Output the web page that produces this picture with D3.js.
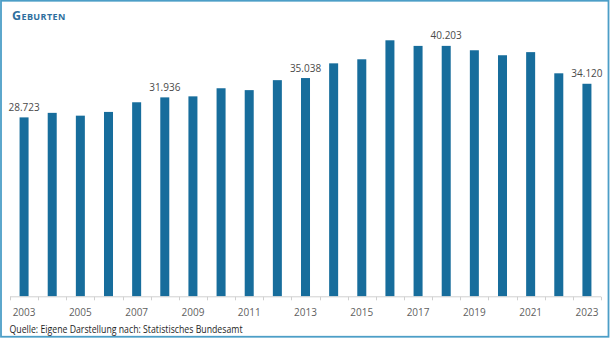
<!DOCTYPE html>
<html lang="de">
<head>
<meta charset="utf-8">
<script src="https://cdn.jsdelivr.net/npm/d3@7"></script>
<style>
  html, body { margin: 0; padding: 0; background: #fff; }
  svg { display: block; }
</style>
</head>
<body>
<script>
// Lebendgeburten je Jahr
const years = [2003, 2004, 2005, 2006, 2007, 2008, 2009, 2010, 2011, 2012, 2013,
               2014, 2015, 2016, 2017, 2018, 2019, 2020, 2021, 2022, 2023];
const births = [28723, 29450, 29000, 29600, 31150, 31936, 32100, 33400, 33100, 34700, 35038,
                37400, 38050, 41100, 40200, 40203, 39500, 38700, 39200, 35800, 34120];
const labelledYears = [2003, 2008, 2013, 2018, 2023];
const tickYears = [2003, 2005, 2007, 2009, 2011, 2013, 2015, 2017, 2019, 2021, 2023];
const title = "Geburten";
const source = "Quelle: Eigene Darstellung nach: Statistisches Bundesamt";

const W = 611, H = 338;
const plot = { left: 10, right: 601, top: 16, bottom: 296.3 };
const barColor = "#176d9c";
const frameColor = "#4c9ec7";
const font = "'Open Sans', 'Noto Sans', sans-serif";

const de = d3.formatLocale({ decimal: ",", thousands: ".", grouping: [3], currency: ["", " €"] });
const fmt = de.format(",d");

const svg = d3.select("body").append("svg")
  .attr("width", W).attr("height", H);

// Rahmen
svg.append("rect")
  .attr("x", 1).attr("y", 0.75)
  .attr("width", W - 3.5).attr("height", H - 2)
  .attr("fill", "none")
  .attr("stroke", frameColor)
  .attr("stroke-width", 1.8);

// Titel
svg.append("text")
  .attr("x", 12).attr("y", 20)
  .attr("font-family", font)
  .attr("font-size", 12.5)
  .attr("font-weight", 700)
  .style("font-variant", "small-caps")
  .attr("letter-spacing", 0.4)
  .attr("fill", "#2e6f9e")
  .text(title);

const x = d3.scaleBand()
  .domain(years)
  .range([plot.left, plot.right])
  .paddingInner(0.68)
  .paddingOuter(0.34);

const y = d3.scaleLinear()
  .domain([0, 45000])
  .range([plot.bottom, plot.top]);

const rows = years.map((yr, i) => ({ yr, v: births[i] }));

// Säulen
svg.append("g").selectAll("rect")
  .data(rows)
  .join("rect")
  .attr("x", d => x(d.yr))
  .attr("y", d => y(d.v))
  .attr("width", x.bandwidth())
  .attr("height", d => y(0) - y(d.v))
  .attr("fill", barColor);

// Wertbeschriftungen
svg.append("g").selectAll("text")
  .data(rows.filter(d => labelledYears.includes(d.yr)))
  .join("text")
  .attr("x", d => x(d.yr) + x.bandwidth() / 2)
  .attr("y", d => y(d.v) - 6.5)
  .attr("text-anchor", "middle")
  .attr("font-family", font)
  .attr("font-size", 10)
  .attr("fill", "#4a4a4a")
  .text(d => fmt(d.v));

// x-Achse: Linie, Trennstriche an den Kategoriegrenzen, Jahresbeschriftungen
const axis = svg.append("g");
axis.append("line")
  .attr("x1", plot.left).attr("x2", plot.right)
  .attr("y1", plot.bottom + 0.5).attr("y2", plot.bottom + 0.5)
  .attr("stroke", "#d0d0d0").attr("stroke-width", 1);

const edges = years.map(yr => x(yr) + x.bandwidth() / 2 - x.step() / 2).concat([plot.right]);
axis.selectAll("line.tick")
  .data(edges)
  .join("line")
  .attr("class", "tick")
  .attr("x1", d => Math.round(d) + 0.5).attr("x2", d => Math.round(d) + 0.5)
  .attr("y1", plot.bottom + 0.5).attr("y2", plot.bottom + 4)
  .attr("stroke", "#d0d0d0").attr("stroke-width", 1);

axis.selectAll("text")
  .data(tickYears)
  .join("text")
  .attr("x", d => x(d) + x.bandwidth() / 2)
  .attr("y", 316)
  .attr("text-anchor", "middle")
  .attr("font-family", font)
  .attr("font-size", 10)
  .attr("fill", "#5f5f5f")
  .text(d => d);

// Quelle
svg.append("text")
  .attr("x", 9.5).attr("y", 333)
  .attr("font-family", font)
  .attr("font-size", 10)
  .attr("fill", "#1e1e1e")
  .attr("textLength", 233)
  .attr("lengthAdjust", "spacingAndGlyphs")
  .text(source);
</script>
</body>
</html>
